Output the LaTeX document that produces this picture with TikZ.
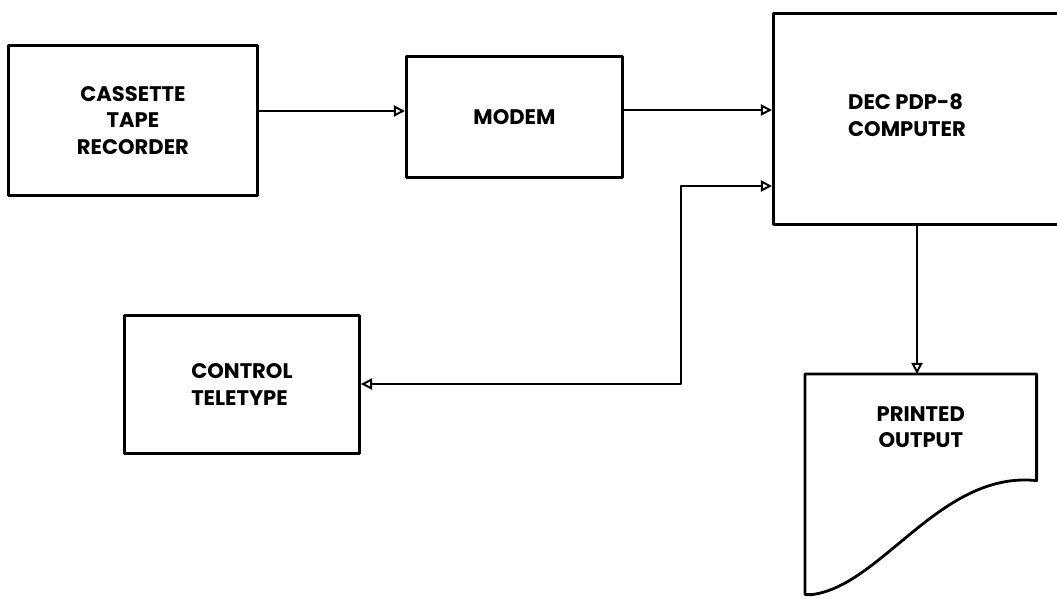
\documentclass[tikz,border=0pt]{standalone}
\usepackage{fontspec}
\setmainfont{Poppins}
\usetikzlibrary{arrows.meta}
\begin{document}
\begin{tikzpicture}[x=0.025cm,y=-0.025cm,line join=round,>={Triangle[open,length=2.8mm,width=2.8mm]},
		font=\fontsize{15}{19}\selectfont\bfseries,
		box/.style={draw,line width=2pt,inner sep=0pt,align=center},
		flow/.style={line width=1.4pt}]
	\useasboundingbox (0,0) rectangle (1057,598);
	\clip (0,0) rectangle (1057,598);
	% blocks
	\node[box,anchor=north west,minimum width=6.225cm,minimum height=3.75cm] (cass) at (7,44) {CASSETTE\\TAPE\\RECORDER};
	\node[box,anchor=north west,minimum width=5.4cm,minimum height=3.025cm] (modem) at (405,55) {MODEM};
	\node[box,anchor=north west,minimum width=7.5cm,minimum height=5.275cm] (pdp) at (772,12) {};
	\node[align=left] (pdptext) at (907,115) {DEC PDP-8\\COMPUTER};
	\node[box,align=left,anchor=north west,minimum width=5.875cm,minimum height=3.45cm] (tty) at (123,314) {CONTROL\\TELETYPE};
	\node[align=center,anchor=north west,minimum width=5.775cm,minimum height=2.65cm,inner sep=0pt] (prn) at (805,374) {PRINTED\\OUTPUT};
	% printed output sheet
	\draw[line width=2pt] (prn.north west) -- (prn.north east) -- (prn.south east)
		.. controls +(-96,-10) and +(70,-9) .. ([shift={(7,114)}]prn.south west)
		-- ([shift={(0,114)}]prn.south west) -- cycle;
	% connectors
	\draw[flow,->] (cass.east |- 0,111) -- (modem.west |- 0,111);
	\draw[flow,->] (modem.east |- 0,110) -- (pdp.west |- 0,110);
	\draw[flow,<->] (pdp.west |- 0,186) -- (681,186) -- (681,384) -- (tty.east |- 0,384);
	\draw[flow,->] (pdp.south -| 917,0) -- (prn.north -| 917,0);
\end{tikzpicture}
\end{document}
